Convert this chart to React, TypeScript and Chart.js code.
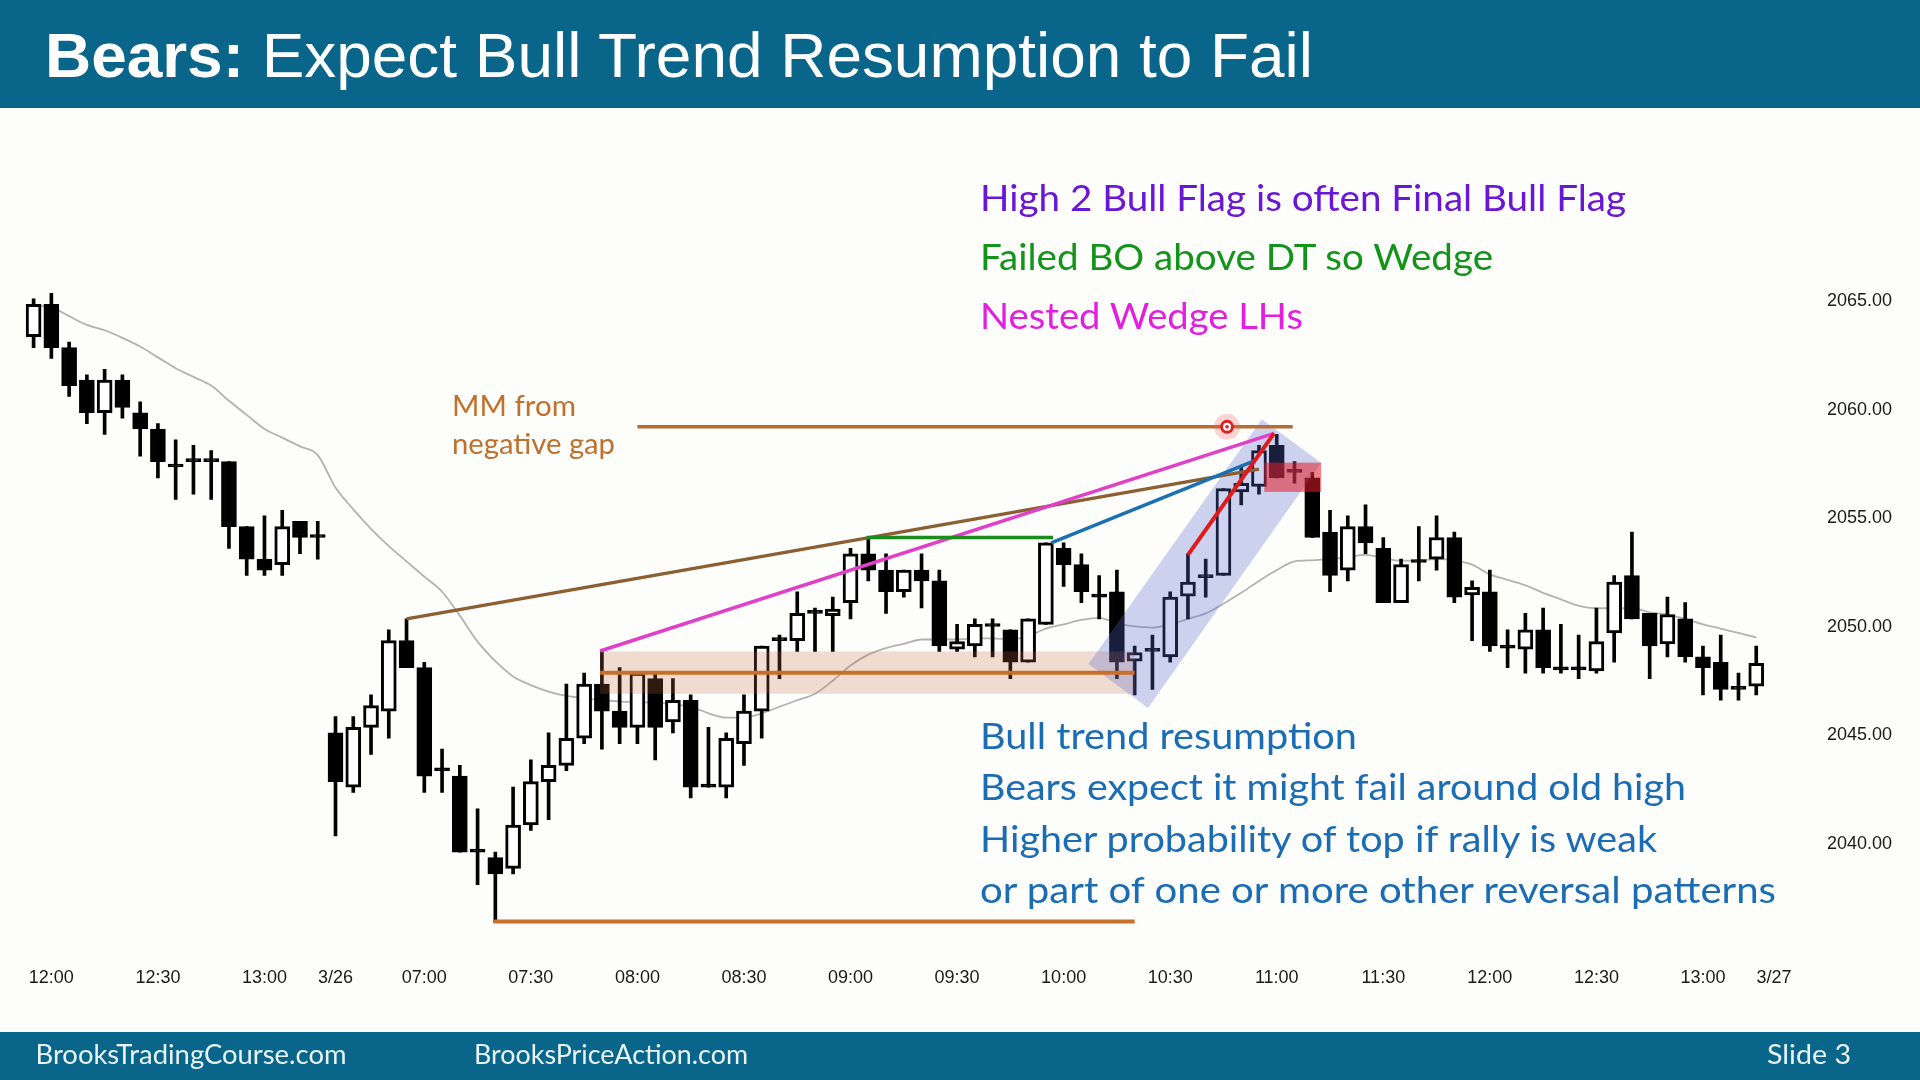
import React, { useEffect, useRef } from 'react';
import { Chart, registerables } from 'chart.js';

Chart.register(...registerables);

// ---------- data ----------
const barTimes = [
  '11:55','12:00','12:05','12:10','12:15','12:20','12:25','12:30','12:35','12:40','12:45','12:50','12:55','13:00','13:05','13:10','13:15',
  '06:35','06:40','06:45','06:50','06:55',
  '07:00','07:05','07:10','07:15','07:20','07:25','07:30','07:35','07:40','07:45','07:50','07:55',
  '08:00','08:05','08:10','08:15','08:20','08:25','08:30','08:35','08:40','08:45','08:50','08:55',
  '09:00','09:05','09:10','09:15','09:20','09:25','09:30','09:35','09:40','09:45','09:50','09:55',
  '10:00','10:05','10:10','10:15','10:20','10:25','10:30','10:35','10:40','10:45','10:50','10:55',
  '11:00','11:05','11:10','11:15','11:20','11:25','11:30','11:35','11:40','11:45','11:50','11:55',
  '12:00','12:05','12:10','12:15','12:20','12:25','12:30','12:35','12:40','12:45','12:50','12:55',
  '13:00','13:05','13:10','13:15',
  '06:35','06:40','06:45'
];

const opens = [
  2063.25, 2064.75, 2062.75, 2061.25, 2059.75, 2061.25, 2059.75, 2059, 2057.25, 2057.5,
  2057.5, 2057.5, 2054.5, 2053, 2052.75, 2054.75, 2054,
  2045, 2042.5, 2045.25, 2046, 2049.25, 2048, 2043.25, 2043, 2039.5,
  2039.25, 2038.75, 2040.75, 2042.75, 2043.5, 2044.75, 2047.25, 2046, 2045.25, 2047.5,
  2045.5, 2046.5, 2042.5, 2042.5, 2044.5, 2046, 2049.25, 2049.25, 2050.5, 2050.4,
  2051, 2053.25, 2052.5, 2051.5, 2052.5, 2052, 2048.85, 2049, 2050, 2049.75,
  2048.25, 2050, 2053.5, 2052.75, 2051.25, 2051.5, 2048.3, 2048.75, 2048.5, 2051.3,
  2052.15, 2052.25, 2056.1, 2056.35, 2058.25, 2057, 2056.75, 2054.25, 2052.5, 2054.5,
  2053.5, 2051, 2052.85, 2053, 2054, 2051.35, 2051.5, 2048.9, 2048.85, 2049.75,
  2047.9, 2047.9, 2047.85, 2049.6, 2052.25, 2050.5, 2049.1, 2050.25, 2048.5, 2048.25,
  2047, 2047.15
];
const highs = [
  2065, 2065.25, 2063, 2061.5, 2061.75, 2061.5, 2060.25, 2059.25, 2058.5, 2058.25,
  2058, 2057.5, 2054.5, 2055, 2055.25, 2054.75, 2054.75,
  2045.75, 2045.75, 2046.75, 2049.75, 2050.25, 2048.25, 2044.25, 2043.5, 2041.5,
  2039.5, 2042.5, 2043.75, 2045, 2047.25, 2047.75, 2048.75, 2048, 2047.75, 2047.75,
  2047.5, 2046.75, 2045.25, 2045, 2046.75, 2049, 2049.5, 2051.5, 2050.75, 2051.25,
  2053.5, 2054, 2053.25, 2052.5, 2053.25, 2052.5, 2050, 2050.25, 2050.25, 2049.75,
  2050.25, 2053.75, 2053.75, 2053.25, 2052.25, 2052.5, 2049, 2049.5, 2051.5, 2053.25,
  2053, 2056.25, 2057.25, 2058.25, 2058.75, 2057.5, 2057, 2055.25, 2055, 2055.5,
  2054, 2053, 2054.5, 2055, 2054.25, 2052, 2052.5, 2049.75, 2050.5, 2050.75,
  2050, 2049.5, 2050.75, 2052.25, 2054.25, 2050.5, 2051.25, 2051, 2049, 2049.5,
  2047.75, 2049
];
const lows = [
  2062.75, 2062.25, 2060.5, 2059.25, 2058.75, 2059.5, 2057.75, 2056.75, 2055.75, 2056,
  2055.75, 2053.5, 2052.25, 2052.25, 2052.25, 2053.25, 2053,
  2040.25, 2042.25, 2044, 2044.75, 2048, 2042.25, 2042.25, 2039.5, 2038,
  2036.25, 2038.5, 2040.5, 2041, 2043.25, 2044.5, 2044.25, 2044.5, 2044.5, 2043.75,
  2045, 2042, 2042.5, 2042, 2043.5, 2044.75, 2047.5, 2048.75, 2048.75, 2048.75,
  2050.25, 2052, 2050.5, 2051.25, 2050.75, 2048.75, 2048.75, 2048.5, 2048.5, 2047.5,
  2048.25, 2050, 2051.75, 2051, 2050.25, 2047.5, 2046.75, 2047, 2048.25, 2050.25,
  2051.25, 2052.25, 2055.5, 2056, 2056.75, 2056.5, 2054, 2051.5, 2052, 2053.25,
  2051, 2051, 2052, 2052.5, 2051, 2049.25, 2048.75, 2048, 2047.75, 2047.75,
  2047.75, 2047.5, 2047.75, 2048.25, 2050.25, 2047.5, 2048.5, 2048.25, 2046.75, 2046.5,
  2046.5, 2046.75
];
const closes = [
  2064.75, 2062.75, 2061, 2059.75, 2061.25, 2060, 2059, 2057.5, 2057.25, 2057.5,
  2057.5, 2054.5, 2053, 2052.5, 2054.5, 2054, 2054,
  2042.75, 2045.25, 2046.25, 2049.25, 2048, 2043, 2043.25, 2039.5, 2039.5,
  2038.5, 2040.75, 2042.75, 2043.5, 2044.75, 2047.25, 2046, 2045.25, 2047.75, 2045.25,
  2046.5, 2042.5, 2042.5, 2044.75, 2046, 2049, 2049.25, 2050.5, 2050.5, 2050.7,
  2053.25, 2052.5, 2051.5, 2052.5, 2052, 2049, 2049.2, 2050, 2049.9, 2048.25,
  2050.25, 2053.75, 2052.75, 2051.5, 2051.25, 2048.25, 2048.7, 2048.75, 2051.25, 2051.95,
  2052.15, 2056.25, 2056.5, 2058, 2056.75, 2057, 2054, 2052.25, 2054.5, 2053.75,
  2051, 2052.75, 2052.85, 2054, 2051.25, 2051.7, 2049, 2048.9, 2049.75, 2048,
  2047.9, 2047.9, 2049.2, 2051.95, 2050.25, 2049, 2050.45, 2048.5, 2048, 2047,
  2047, 2048.2
];
const movingAvg = [
  2064.7, 2064.6, 2064.2, 2063.8, 2063.55, 2063.2, 2062.8, 2062.3, 2061.8, 2061.4,
  2061.0, 2060.3, 2059.65, 2059.0, 2058.6, 2058.2, 2057.8,
  2056.3, 2055.3, 2054.4, 2053.6, 2052.9, 2052.2, 2051.5, 2050.4, 2049.2,
  2048.3, 2047.6, 2047.2, 2046.9, 2046.7, 2046.6, 2046.5, 2046.45, 2046.4, 2046.4,
  2046.3, 2046.2, 2045.9, 2045.7, 2045.7, 2045.9, 2046.2, 2046.5, 2046.8, 2047.4,
  2048.1, 2048.6, 2048.9, 2049.1, 2049.3, 2049.3, 2049.3, 2049.35, 2049.35, 2049.3,
  2049.45, 2049.8, 2050.0, 2050.2, 2050.3, 2050.05, 2049.9, 2049.85, 2050.0, 2050.25,
  2050.5, 2050.95, 2051.45, 2052.0, 2052.5, 2052.9, 2052.95, 2053.0, 2053.1, 2053.2,
  2053.05, 2052.93, 2052.95, 2053.0, 2052.95, 2052.75, 2052.3, 2052.05, 2051.8, 2051.45,
  2051.15, 2050.85, 2050.74, 2050.74, 2050.74, 2050.55, 2050.45, 2050.25, 2050.0, 2049.8,
  2049.6, 2049.4
];

const xTickIndex = [1, 7, 13, 17, 22, 28, 34, 40, 46, 52, 58, 64, 70, 76, 82, 88, 94, 98];
const xTickText = ['12:00','12:30','13:00','3/26','07:00','07:30','08:00','08:30','09:00','09:30','10:00','10:30','11:00','11:30','12:00','12:30','13:00','3/27'];
const yTickValues = [2040, 2045, 2050, 2055, 2060, 2065];

// annotation geometry in data units: [barIndex, price]
const mmLine = [[34.0, 2059.1], [70.9, 2059.1]];
const gapLowLine = [[25.9, 2036.3], [62.0, 2036.3]];
const rangeBand = [[31.9, 2048.75], [62.0, 2046.8]];
const rangeMid = [[31.9, 2047.77], [62.0, 2047.77]];
const wedgeLine = [[21, 2050.25], [69.0, 2057.15]];
const nestedLine = [[31.9, 2048.77], [69.85, 2058.8]];
const dtLine = [[46.9, 2054.0], [57.4, 2054.0]];
const blueLine = [[57.3, 2053.75], [68.8, 2057.55]];
const redLine = [[65, 2053.2], [69.85, 2058.8]];
const channel = [[59.4, 2048.17], [62.75, 2046.14], [72.5, 2057.44], [69.16, 2059.45]];
const sellBox = [[69.3, 2057.45], [72.5, 2056.1]];
const cursorDot = [67.2, 2059.1];

const overlayPlugin = {
  id: 'overlays',
  afterDatasetsDraw(chart: any) {
    const { ctx } = chart;
    const xs = chart.scales.x;
    const ys = chart.scales.y;
    const X = (v: number) => xs.getPixelForValue(v);
    const Y = (v: number) => ys.getPixelForValue(v);
    ctx.save();
    // range band
    ctx.fillStyle = 'rgba(196,109,65,0.23)';
    ctx.fillRect(X(rangeBand[0][0]), Y(rangeBand[0][1]), X(rangeBand[1][0]) - X(rangeBand[0][0]), Y(rangeBand[1][1]) - Y(rangeBand[0][1]));
    // channel
    ctx.fillStyle = 'rgba(86,103,207,0.29)';
    ctx.beginPath();
    channel.forEach((p, i) => (i === 0 ? ctx.moveTo(X(p[0]), Y(p[1])) : ctx.lineTo(X(p[0]), Y(p[1]))));
    ctx.closePath();
    ctx.fill();
    // sell box
    ctx.fillStyle = 'rgba(225,30,40,0.55)';
    ctx.fillRect(X(sellBox[0][0]), Y(sellBox[0][1]), X(sellBox[1][0]) - X(sellBox[0][0]), Y(sellBox[1][1]) - Y(sellBox[0][1]));

    const seg = (l: number[][], color: string, w: number) => {
      ctx.strokeStyle = color;
      ctx.lineWidth = w;
      ctx.lineCap = 'butt';
      ctx.beginPath();
      ctx.moveTo(X(l[0][0]), Y(l[0][1]));
      ctx.lineTo(X(l[1][0]), Y(l[1][1]));
      ctx.stroke();
    };
    seg(rangeMid, '#c8702a', 4);
    seg(gapLowLine, '#c8702a', 4);
    seg(mmLine, '#b46e32', 3.5);
    seg(wedgeLine, '#8c5f32', 3.5);
    seg(nestedLine, '#e040c8', 3.5);
    seg(dtLine, '#1a8c1a', 3.5);
    seg(blueLine, '#1a70b0', 3.5);
    seg(redLine, '#e01a1a', 4);

    // cursor dot
    const cx = X(cursorDot[0]);
    const cy = Y(cursorDot[1]);
    ctx.fillStyle = 'rgba(255,90,90,0.25)';
    ctx.beginPath(); ctx.arc(cx, cy, 13, 0, Math.PI * 2); ctx.fill();
    ctx.fillStyle = '#ffffff';
    ctx.beginPath(); ctx.arc(cx, cy, 5.5, 0, Math.PI * 2); ctx.fill();
    ctx.strokeStyle = '#e01e1e'; ctx.lineWidth = 3;
    ctx.beginPath(); ctx.arc(cx, cy, 5.5, 0, Math.PI * 2); ctx.stroke();
    ctx.fillStyle = '#e01e1e';
    ctx.beginPath(); ctx.arc(cx, cy, 1.8, 0, Math.PI * 2); ctx.fill();
    ctx.restore();
  },
};

const tickFont = { family: "'Liberation Sans', Arial, sans-serif", size: 18 };

export default function App() {
  const ref = useRef<HTMLCanvasElement>(null);

  useEffect(() => {
    document.body.style.margin = '0';
    const canvas = ref.current;
    if (!canvas) return;
    const chart = new Chart(canvas, {
      type: 'bar',
      data: {
        labels: barTimes,
        datasets: [
          {
            type: 'line',
            data: movingAvg,
            borderColor: '#b2b2b2',
            borderWidth: 1.8,
            pointRadius: 0,
            cubicInterpolationMode: 'monotone',
            order: 3,
          } as any,
          {
            type: 'bar',
            data: lows.map((l, i) => [l, highs[i]]),
            backgroundColor: '#000000',
            barThickness: 3,
            grouped: false,
            order: 2,
          } as any,
          {
            type: 'bar',
            data: opens.map((o, i) => [o, closes[i]]),
            backgroundColor: opens.map((o, i) => (closes[i] > o ? '#ffffff' : '#000000')),
            borderColor: '#000000',
            borderWidth: 3,
            borderSkipped: false,
            barThickness: 15,
            minBarLength: 3,
            grouped: false,
            order: 1,
          } as any,
        ],
      },
      options: {
        responsive: false,
        animation: false,
        devicePixelRatio: 1,
        events: [],
        layout: { padding: { left: 24.72, top: 277.1, right: 0, bottom: 0 } },
        plugins: { legend: { display: false }, tooltip: { enabled: false } },
        scales: {
          x: {
            type: 'category',
            offset: true,
            grid: { display: false, drawTicks: false },
            border: { display: false },
            ticks: {
              autoSkip: false,
              maxRotation: 0,
              minRotation: 0,
              padding: 17,
              color: '#1a1a1a',
              font: tickFont,
              callback: (_v: any, i: number) => {
                const k = xTickIndex.indexOf(i);
                return k >= 0 ? xTickText[k] : '';
              },
            },
            afterFit: (s: any) => { s.height = 130.2; },
          },
          y: {
            type: 'linear',
            position: 'right',
            min: 2035,
            max: 2066,
            grid: { display: false, drawTicks: false },
            border: { display: false },
            afterBuildTicks: (s: any) => { s.ticks = yTickValues.map((v) => ({ value: v })); },
            ticks: {
              padding: 8.6,
              labelOffset: 2.5,
              color: '#1a1a1a',
              font: tickFont,
              callback: (v: any) => Number(v).toFixed(2),
            },
            afterFit: (s: any) => { s.width = 101.6; },
          },
        },
      } as any,
      plugins: [overlayPlugin],
    });
    return () => chart.destroy();
  }, []);

  const annFont = "Lato, 'Open Sans', sans-serif";
  const band = '#09668a';

  return (
    <div style={{ position: 'fixed', left: 0, top: 0, width: 1920, height: 1080, background: '#fdfdfb', overflow: 'hidden' }}>
      <canvas ref={ref} width={1920} height={1080} style={{ position: 'absolute', left: 0, top: 0, width: 1920, height: 1080 }} />
      <svg width={1920} height={1080} style={{ position: 'absolute', left: 0, top: 0, pointerEvents: 'none' }}>
        <rect x={0} y={0} width={1920} height={108} fill={band} />
        <text x={45} y={77} fill="#ffffff" fontFamily="'Liberation Sans', Arial, sans-serif" fontSize={63} textLength={1268} lengthAdjust="spacingAndGlyphs">
          <tspan fontWeight="bold">Bears:</tspan>{' Expect Bull Trend Resumption to Fail'}
        </text>
        <rect x={0} y={1032} width={1920} height={48} fill={band} />
        <text x={35.5} y={1064} fill="#e8f4f8" fontFamily={annFont} fontSize={27} textLength={311} lengthAdjust="spacingAndGlyphs">BrooksTradingCourse.com</text>
        <text x={474} y={1064} fill="#e8f4f8" fontFamily={annFont} fontSize={27} textLength={274} lengthAdjust="spacingAndGlyphs">BrooksPriceAction.com</text>
        <text x={1767} y={1064} fill="#e8f4f8" fontFamily={annFont} fontSize={27} textLength={84} lengthAdjust="spacingAndGlyphs">Slide 3</text>

        <text x={980} y={211} fill="#6a16d6" fontFamily={annFont} fontSize={36} textLength={646} lengthAdjust="spacingAndGlyphs">High 2 Bull Flag is often Final Bull Flag</text>
        <text x={980} y={270} fill="#129418" fontFamily={annFont} fontSize={36} textLength={513} lengthAdjust="spacingAndGlyphs">Failed BO above DT so Wedge</text>
        <text x={980} y={329} fill="#e21fe0" fontFamily={annFont} fontSize={36} textLength={323} lengthAdjust="spacingAndGlyphs">Nested Wedge LHs</text>

        <text x={452} y={416} fill="#c0702a" fontFamily={annFont} fontSize={29} textLength={124} lengthAdjust="spacingAndGlyphs">MM from</text>
        <text x={452} y={454} fill="#c0702a" fontFamily={annFont} fontSize={29} textLength={163} lengthAdjust="spacingAndGlyphs">negative gap</text>

        <text x={980} y={749} fill="#1a6db5" fontFamily={annFont} fontSize={36} textLength={377} lengthAdjust="spacingAndGlyphs">Bull trend resumption</text>
        <text x={980} y={800} fill="#1a6db5" fontFamily={annFont} fontSize={36} textLength={706} lengthAdjust="spacingAndGlyphs">Bears expect it might fail around old high</text>
        <text x={980} y={852} fill="#1a6db5" fontFamily={annFont} fontSize={36} textLength={677} lengthAdjust="spacingAndGlyphs">Higher probability of top if rally is weak</text>
        <text x={980} y={903} fill="#1a6db5" fontFamily={annFont} fontSize={36} textLength={796} lengthAdjust="spacingAndGlyphs">or part of one or more other reversal patterns</text>
      </svg>
    </div>
  );
}
